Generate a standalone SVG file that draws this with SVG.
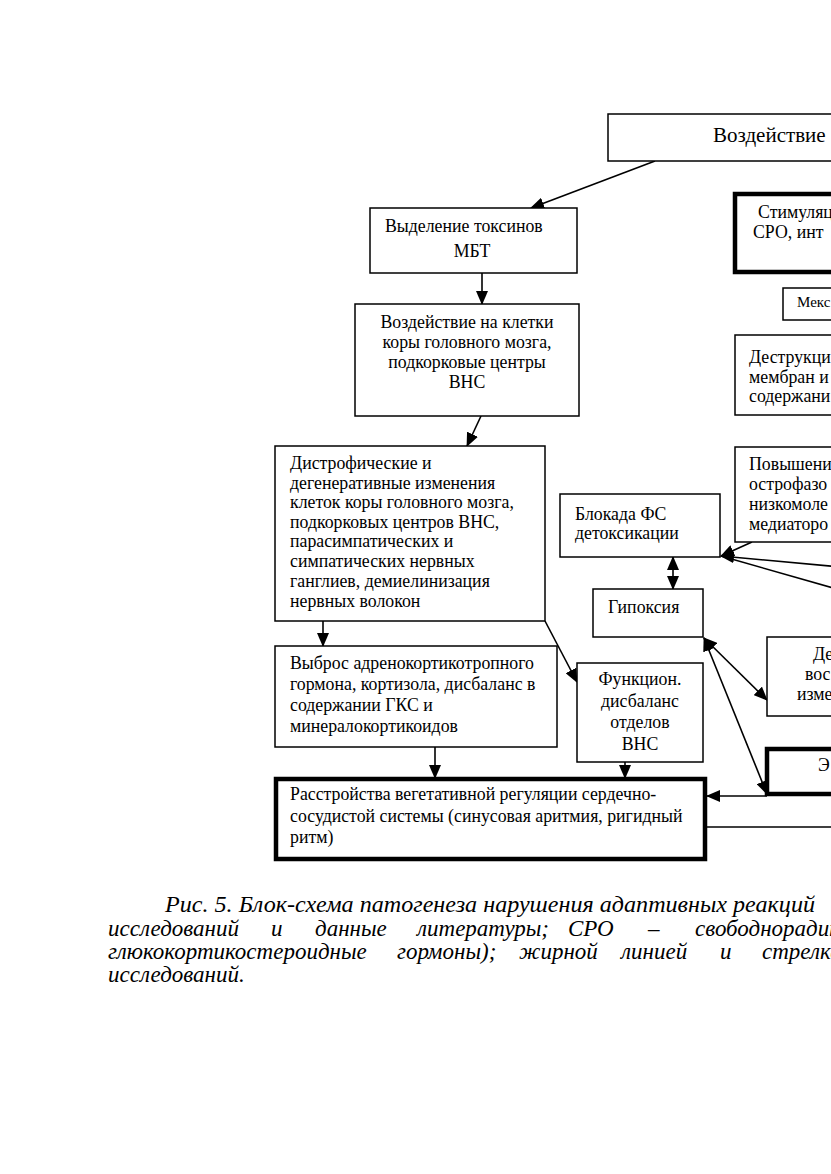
<svg xmlns="http://www.w3.org/2000/svg" width="831" height="1174" viewBox="0 0 831 1174">
<style>
.bx{fill:#fff;stroke:#000;stroke-width:1.5}
.bb{fill:#fff;stroke:#000;stroke-width:4.5}
.t{font-family:"Liberation Serif","Times New Roman",serif;font-size:17.8px;fill:#000}
.tc{text-anchor:middle}
.ln{stroke:#000;stroke-width:1.6;fill:none}
.cap{font-family:"Liberation Serif","Times New Roman",serif;font-size:23px;font-style:italic;fill:#000}
</style>
<defs>
<marker id="ah" markerUnits="userSpaceOnUse" markerWidth="14" markerHeight="12" viewBox="0 0 14 12" refX="13" refY="6" orient="auto-start-reverse">
<path d="M0,0 L14,6 L0,12 Z" fill="#000"/>
</marker>
</defs>
<rect width="831" height="1174" fill="#fff"/>

<g id="connectors">
<line class="ln" x1="655" y1="161" x2="531" y2="208" marker-end="url(#ah)"/>
<line class="ln" x1="482" y1="273" x2="482" y2="304" marker-end="url(#ah)"/>
<line class="ln" x1="481" y1="416" x2="467" y2="446" marker-end="url(#ah)"/>
<line class="ln" x1="323" y1="621" x2="323" y2="646" marker-end="url(#ah)"/>
<line class="ln" x1="545" y1="621" x2="577" y2="682" marker-end="url(#ah)"/>
<line class="ln" x1="435" y1="747" x2="435" y2="778" marker-end="url(#ah)"/>
<line class="ln" x1="625" y1="762" x2="625" y2="778" marker-end="url(#ah)"/>
<line class="ln" x1="752" y1="542" x2="721" y2="556" marker-end="url(#ah)"/>
<line class="ln" x1="840" y1="567" x2="721" y2="556" marker-end="url(#ah)"/>
<line class="ln" x1="840" y1="590" x2="721" y2="556"/>
<line class="ln" x1="673" y1="557" x2="673" y2="589" marker-start="url(#ah)" marker-end="url(#ah)"/>
<line class="ln" x1="704" y1="638" x2="767" y2="700" marker-start="url(#ah)" marker-end="url(#ah)"/>
<line class="ln" x1="704" y1="638" x2="767" y2="794" marker-start="url(#ah)" marker-end="url(#ah)"/>
<line class="ln" x1="767" y1="796" x2="707" y2="796" marker-end="url(#ah)"/>
<line class="ln" x1="840" y1="827" x2="707" y2="827"/>
</g>

<g id="n-vozd">
<rect class="bx" x="608" y="114" width="240" height="47"/>
<text class="t" x="713" y="142" style="font-size:21px">Воздействие</text>
</g>
<g id="n-toxin">
<rect class="bx" x="370" y="208" width="207" height="65"/>
<text class="t" x="385" y="232">Выделение токсинов</text>
<text class="t tc" x="472" y="257">МБТ</text>
</g>
<g id="n-stim">
<rect class="bb" x="735" y="194" width="110" height="78"/>
<text class="t" x="758" y="218">Стимуляц</text>
<text class="t" x="753" y="238">СРО, инт</text>
</g>
<g id="n-meks">
<rect class="bx" x="783" y="288" width="60" height="32"/>
<text class="t" x="797" y="307" style="font-size:15px">Мекс</text>
</g>
<g id="n-kletki">
<rect class="bx" x="355" y="304" width="224" height="112"/>
<text class="t tc" x="467" y="328">Воздействие на клетки</text>
<text class="t tc" x="467" y="348">коры головного мозга,</text>
<text class="t tc" x="467" y="368">подкорковые центры</text>
<text class="t tc" x="467" y="388">ВНС</text>
</g>
<g id="n-destr">
<rect class="bx" x="735" y="335" width="110" height="80"/>
<text class="t" x="749" y="363">Деструкци</text>
<text class="t" x="749" y="383">мембран и</text>
<text class="t" x="749" y="402">содержани</text>
</g>
<g id="n-distr">
<rect class="bx" x="275" y="446" width="270" height="175"/>
<text class="t" x="290" y="469">Дистрофические и</text>
<text class="t" x="290" y="489">дегенеративные изменения</text>
<text class="t" x="290" y="508">клеток коры головного мозга,</text>
<text class="t" x="290" y="528">подкорковых центров ВНС,</text>
<text class="t" x="290" y="547">парасимпатических и</text>
<text class="t" x="290" y="567">симпатических нервных</text>
<text class="t" x="290" y="587">ганглиев, демиелинизация</text>
<text class="t" x="290" y="607">нервных волокон</text>
</g>
<g id="n-povysh">
<rect class="bx" x="735" y="447" width="110" height="95"/>
<text class="t" x="749" y="470">Повышени</text>
<text class="t" x="749" y="490">острофазо</text>
<text class="t" x="749" y="510">низкомоле</text>
<text class="t" x="749" y="530">медиаторо</text>
</g>
<g id="n-blok">
<rect class="bx" x="560" y="494" width="160" height="63"/>
<text class="t" x="575" y="520">Блокада ФС</text>
<text class="t" x="575" y="539">детоксикации</text>
</g>
<g id="n-gipox">
<rect class="bx" x="593" y="589" width="110" height="48"/>
<text class="t" x="608" y="613">Гипоксия</text>
</g>
<g id="n-vybros">
<rect class="bx" x="275" y="646" width="282" height="101"/>
<text class="t" x="290" y="669">Выброс адренокортикотропного</text>
<text class="t" x="290" y="690">гормона, кортизола, дисбаланс в</text>
<text class="t" x="290" y="711">содержании ГКС и</text>
<text class="t" x="290" y="732">минералокортикоидов</text>
</g>
<g id="n-funk">
<rect class="bx" x="577" y="663" width="126" height="99"/>
<text class="t tc" x="640" y="685">Функцион.</text>
<text class="t tc" x="640" y="707">дисбаланс</text>
<text class="t tc" x="640" y="728">отделов</text>
<text class="t tc" x="640" y="750">ВНС</text>
</g>
<g id="n-de">
<rect class="bx" x="767" y="637" width="80" height="79"/>
<text class="t" x="813" y="660">Де</text>
<text class="t" x="805" y="680">вос</text>
<text class="t" x="797" y="700">изме</text>
</g>
<g id="n-e">
<rect class="bb" x="767" y="749" width="80" height="45"/>
<text class="t" x="818" y="771">Э</text>
</g>
<g id="n-rasstr">
<rect class="bb" x="276" y="779" width="429" height="80"/>
<text class="t" x="290" y="800">Расстройства вегетативной регуляции сердечно-</text>
<text class="t" x="290" y="822">сосудистой системы (синусовая аритмия, ригидный</text>
<text class="t" x="290" y="843">ритм)</text>
</g>

<g id="caption">
<text class="cap" x="165" y="912" textLength="650" lengthAdjust="spacingAndGlyphs">Рис. 5. Блок-схема патогенеза нарушения адаптивных реакций</text>
<text class="cap" y="936"><tspan x="108">исследований</tspan><tspan x="271">и</tspan><tspan x="315">данные</tspan><tspan x="417">литературы;</tspan><tspan x="568">СРО</tspan><tspan x="648">–</tspan><tspan x="695">свободнорадик</tspan></text>
<text class="cap" y="959"><tspan x="108">глюкокортикостероидные</tspan><tspan x="397">гормоны);</tspan><tspan x="519">жирной</tspan><tspan x="621">линией</tspan><tspan x="720">и</tspan><tspan x="762">стрелка</tspan></text>
<text class="cap" x="108" y="982">исследований.</text>
</g>
</svg>
